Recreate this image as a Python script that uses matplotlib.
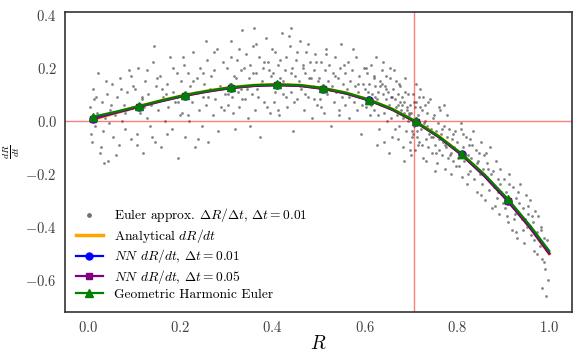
"""Euler estimates of dR/dt versus R, with the analytical and learned right-hand sides."""
import numpy as np
import matplotlib
matplotlib.use("Agg")
import matplotlib.pyplot as plt

plt.rcParams["font.family"] = ["cmr10", "DejaVu Serif"]
plt.rcParams["mathtext.fontset"] = "cm"
plt.rcParams["axes.formatter.use_mathtext"] = True

# Scattered Euler estimates (R, dR/dt) in R bands.
R_A = [0.004, 0.008, 0.011, 0.015, 0.019, 0.022, 0.026, 0.03, 0.033, 0.037, 0.041, 0.044, 0.048, 0.052, 0.055,
       0.059, 0.063, 0.066, 0.07, 0.074, 0.077, 0.081, 0.085, 0.088, 0.092, 0.095, 0.098, 0.013, 0.046, 0.079]
Y_A = [0.05, -0.08, 0.12, -0.02, 0.03, 0.18, -0.12, 0.07, -0.04, 0.01, 0.1, -0.15, 0.04, 0.14, -0.06,
       0.02, 0.09, -0.09, 0.16, 0.0, 0.06, -0.03, 0.11, 0.19, -0.07, 0.05, 0.13, 0.08, -0.01, 0.03]
R_B = [0.102, 0.105, 0.109, 0.112, 0.116, 0.119, 0.123, 0.127, 0.13, 0.134, 0.137, 0.141, 0.145, 0.148, 0.152,
       0.156, 0.159, 0.163, 0.166, 0.17, 0.174, 0.177, 0.181, 0.185, 0.188, 0.192, 0.195, 0.199, 0.121, 0.168]
Y_B = [0.12, -0.05, 0.2, 0.03, 0.08, -0.12, 0.15, 0.01, 0.1, -0.02, 0.06, 0.22, -0.08, 0.13, 0.04,
       0.17, -0.1, 0.09, 0.0, 0.14, 0.05, 0.24, -0.03, 0.11, 0.07, 0.18, -0.14, 0.02, 0.05, 0.1]
R_C = [0.201, 0.204, 0.207, 0.21, 0.213, 0.216, 0.219, 0.222, 0.225, 0.228, 0.231, 0.234, 0.237, 0.24, 0.243, 0.246,
       0.249, 0.252, 0.255, 0.258, 0.261, 0.264, 0.267, 0.27, 0.273, 0.276, 0.279, 0.282, 0.285, 0.288, 0.292, 0.297]
Y_C = [0.15, 0.03, 0.21, -0.06, 0.1, 0.18, 0.0, 0.13, 0.07, 0.26, -0.1, 0.11, 0.16, 0.04, 0.2, -0.02,
       0.09, 0.14, 0.06, 0.23, -0.08, 0.12, 0.17, 0.02, 0.19, 0.08, 0.27, -0.04, 0.13, 0.05, 0.22, 0.1]
R_D = [0.301, 0.304, 0.307, 0.31, 0.313, 0.316, 0.319, 0.322, 0.325, 0.328, 0.331, 0.334, 0.337, 0.34, 0.343, 0.346, 0.349,
       0.352, 0.355, 0.358, 0.361, 0.364, 0.367, 0.37, 0.373, 0.376, 0.379, 0.382, 0.385, 0.388, 0.391, 0.394, 0.397, 0.332]
Y_D = [0.2, 0.06, 0.14, 0.3, 0.09, 0.17, -0.03, 0.23, 0.11, 0.05, 0.19, 0.34, 0.13, 0.08, 0.25, 0.01, 0.16,
       0.21, 0.1, 0.28, 0.04, 0.18, 0.12, 0.24, -0.06, 0.15, 0.2, 0.07, 0.31, 0.14, 0.22, 0.03, 0.17, 0.12]
R_E = [0.401, 0.404, 0.406, 0.409, 0.412, 0.415, 0.417, 0.42, 0.423, 0.426, 0.429, 0.431, 0.434, 0.437, 0.44, 0.443, 0.445, 0.448,
       0.451, 0.454, 0.457, 0.459, 0.462, 0.465, 0.468, 0.471, 0.473, 0.476, 0.479, 0.482, 0.485, 0.487, 0.49, 0.493, 0.496, 0.499]
Y_E = [0.18, 0.07, 0.26, 0.13, 0.21, 0.02, 0.16, 0.33, 0.1, 0.19, 0.24, 0.05, 0.14, 0.28, 0.11, 0.2, -0.04, 0.17,
       0.23, 0.08, 0.15, 0.3, 0.12, 0.21, 0.04, 0.18, 0.26, 0.09, 0.16, 0.22, 0.01, 0.13, 0.19, 0.25, 0.06, 0.15]
R_F = [0.501, 0.503, 0.506, 0.508, 0.511, 0.513, 0.516, 0.518, 0.521, 0.523, 0.526, 0.528, 0.531, 0.533, 0.536, 0.538, 0.541, 0.543, 0.546, 0.548,
       0.551, 0.553, 0.556, 0.558, 0.561, 0.563, 0.566, 0.568, 0.571, 0.573, 0.576, 0.578, 0.581, 0.583, 0.586, 0.588, 0.591, 0.593, 0.596, 0.598]
Y_F = [0.16, 0.08, 0.22, 0.12, 0.03, 0.19, 0.27, 0.1, 0.15, 0.21, -0.02, 0.13, 0.18, 0.07, 0.24, 0.11, 0.16, 0.04, 0.2, 0.29,
       0.09, 0.14, 0.18, 0.06, 0.12, 0.22, 0.01, 0.15, 0.1, 0.19, 0.07, 0.13, 0.24, 0.04, 0.11, 0.17, -0.05, 0.09, 0.14, 0.2]
R_G = [0.601, 0.603, 0.605, 0.607, 0.609, 0.611, 0.613, 0.615, 0.617, 0.619, 0.621, 0.623, 0.625, 0.627, 0.629,
       0.631, 0.633, 0.635, 0.637, 0.639, 0.641, 0.643, 0.645, 0.647, 0.649, 0.651, 0.653, 0.655, 0.657, 0.659,
       0.661, 0.663, 0.665, 0.667, 0.669, 0.671, 0.673, 0.675, 0.677, 0.679, 0.681, 0.683, 0.685, 0.687, 0.689,
       0.691, 0.693, 0.695, 0.697, 0.699, 0.622, 0.646, 0.668, 0.684, 0.694, 0.612, 0.638, 0.656, 0.676, 0.692,
       0.626, 0.652, 0.672, 0.686, 0.698]
Y_G = [0.12, 0.05, 0.18, 0.09, 0.14, 0.02, 0.21, 0.1, 0.07, 0.16, 0.04, 0.13, 0.24, 0.08, 0.11,
       -0.03, 0.15, 0.06, 0.19, 0.1, 0.03, 0.13, 0.08, 0.17, 0.0, 0.11, 0.06, 0.2, 0.09, -0.06,
       0.12, 0.04, 0.08, 0.15, 0.02, 0.1, 0.06, -0.02, 0.13, 0.04, 0.09, 0.01, 0.07, 0.16, -0.04,
       0.05, 0.1, 0.02, -0.08, 0.06, 0.09, 0.12, 0.05, 0.03, 0.0, 0.08, 0.14, 0.01, 0.07, 0.04,
       -0.09, -0.12, -0.07, -0.15, -0.11]
R_H = [0.701, 0.703, 0.705, 0.706, 0.708, 0.709, 0.711, 0.712, 0.714, 0.716, 0.718, 0.72, 0.722, 0.724, 0.726, 0.728, 0.73, 0.732, 0.734,
       0.736, 0.738, 0.74, 0.742, 0.744, 0.746, 0.748, 0.75, 0.752, 0.754, 0.756, 0.758, 0.76, 0.762, 0.764, 0.766, 0.768, 0.77, 0.772,
       0.774, 0.776, 0.778, 0.78, 0.782, 0.784, 0.786, 0.788, 0.79, 0.792, 0.794, 0.796, 0.798, 0.704, 0.71, 0.715, 0.727]
Y_H = [0.03, -0.06, 0.1, -0.02, 0.05, -0.11, 0.01, 0.07, -0.04, 0.02, -0.08, 0.12, -0.03, 0.04, -0.14, -0.01, 0.06, -0.07, -0.02,
       0.03, -0.1, -0.05, 0.08, -0.03, -0.12, -0.06, 0.02, -0.09, -0.04, -0.16, -0.01, -0.07, -0.11, 0.04, -0.05, -0.13, -0.08, -0.02,
       -0.18, -0.1, -0.06, -0.14, -0.03, -0.09, -0.2, -0.12, -0.07, -0.15, -0.1, -0.04, -0.17, -0.05, 0.14, -0.09, 0.09]
R_I = [0.801, 0.804, 0.806, 0.809, 0.811, 0.814, 0.816, 0.819, 0.821, 0.824, 0.826, 0.829, 0.831, 0.834, 0.836, 0.839, 0.841, 0.844, 0.846, 0.849,
       0.851, 0.854, 0.856, 0.859, 0.861, 0.864, 0.866, 0.869, 0.871, 0.874, 0.876, 0.879, 0.881, 0.884, 0.886, 0.889, 0.891, 0.894, 0.896, 0.899]
Y_I = [-0.08, -0.17, -0.12, -0.03, -0.21, -0.1, -0.15, -0.06, -0.24, -0.13, -0.09, -0.19, -0.14, -0.04, -0.22, -0.17, -0.11, -0.27, -0.15, -0.2,
       -0.08, -0.24, -0.18, -0.13, -0.3, -0.21, -0.16, -0.26, -0.1, -0.23, -0.33, -0.19, -0.25, -0.15, -0.29, -0.22, -0.35, -0.18, -0.27, -0.31]
R_J = [0.901, 0.904, 0.907, 0.91, 0.913, 0.916, 0.919, 0.922, 0.925, 0.928, 0.931, 0.934, 0.937, 0.94, 0.943, 0.946, 0.949, 0.952,
       0.955, 0.958, 0.961, 0.964, 0.967, 0.97, 0.973, 0.976, 0.979, 0.982, 0.985, 0.988, 0.991, 0.994, 0.997, 0.993, 0.985]
Y_J = [-0.22, -0.33, -0.27, -0.38, -0.2, -0.3, -0.41, -0.25, -0.35, -0.29, -0.44, -0.31, -0.24, -0.37, -0.33, -0.46, -0.28, -0.4,
       -0.35, -0.3, -0.43, -0.38, -0.49, -0.34, -0.42, -0.36, -0.47, -0.4, -0.52, -0.44, -0.56, -0.48, -0.6, -0.66, -0.63]
# second pass over the cloud
R_K = [0.006, 0.017, 0.028, 0.039, 0.05, 0.061, 0.072, 0.083, 0.094, 0.106, 0.117, 0.128, 0.139, 0.15, 0.161,
       0.172, 0.183, 0.194, 0.206, 0.217, 0.228, 0.239, 0.25, 0.261, 0.272, 0.283, 0.294, 0.035, 0.142, 0.256]
Y_K = [-0.05, 0.09, -0.1, 0.15, 0.06, -0.13, 0.12, 0.04, 0.17, -0.09, 0.09, 0.19, -0.06, 0.16, 0.12,
       -0.05, 0.2, 0.07, 0.24, 0.02, 0.15, -0.07, 0.18, 0.09, 0.26, 0.12, 0.04, -0.16, 0.28, 0.3]
R_L = [0.303, 0.309, 0.315, 0.321, 0.327, 0.333, 0.339, 0.345, 0.351, 0.357, 0.363, 0.369, 0.375, 0.381, 0.387,
       0.393, 0.399, 0.405, 0.411, 0.417, 0.423, 0.429, 0.435, 0.441, 0.447, 0.453, 0.459, 0.465, 0.471, 0.477,
       0.483, 0.489, 0.495, 0.505, 0.515, 0.525, 0.535, 0.545, 0.555, 0.565, 0.575, 0.585, 0.595, 0.36, 0.44]
Y_L = [0.1, 0.24, 0.03, 0.16, 0.27, 0.08, 0.2, 0.12, -0.02, 0.18, 0.29, 0.09, 0.14, 0.22, 0.05,
       0.19, 0.27, 0.11, 0.04, 0.23, 0.15, 0.09, 0.32, 0.18, 0.07, 0.26, 0.13, 0.2, 0.1, 0.29,
       0.16, 0.08, 0.22, 0.05, 0.25, 0.12, 0.17, 0.02, 0.21, 0.09, 0.27, 0.14, 0.06, 0.35, 0.35]
R_M = [0.602, 0.608, 0.614, 0.62, 0.628, 0.634, 0.64, 0.648, 0.654, 0.66, 0.666, 0.674, 0.68, 0.688, 0.696, 0.702,
       0.707, 0.713, 0.719, 0.725, 0.731, 0.737, 0.743, 0.749, 0.755, 0.761, 0.767, 0.773, 0.779, 0.785, 0.791, 0.797,
       0.642, 0.664, 0.682, 0.7, 0.718, 0.733, 0.753, 0.771]
Y_M = [0.2, 0.11, 0.06, 0.17, 0.02, 0.13, 0.22, 0.05, 0.16, 0.09, -0.03, 0.14, 0.06, 0.11, 0.03, -0.04,
       0.07, -0.06, 0.05, -0.09, 0.0, 0.07, -0.06, 0.01, -0.12, 0.05, -0.03, -0.09, 0.02, -0.13, -0.05, -0.11,
       -0.08, 0.19, -0.1, -0.13, 0.09, -0.15, -0.19, 0.06]
R_N = [0.803, 0.813, 0.823, 0.833, 0.843, 0.853, 0.863, 0.873, 0.883, 0.893, 0.903, 0.913, 0.923, 0.933, 0.943,
       0.953, 0.963, 0.973, 0.983, 0.995, 0.808, 0.828, 0.848, 0.868, 0.888, 0.908, 0.928, 0.948, 0.968, 0.988]
Y_N = [-0.14, -0.05, -0.2, -0.09, -0.16, -0.28, -0.12, -0.2, -0.32, -0.24, -0.3, -0.24, -0.37, -0.27, -0.41,
       -0.32, -0.36, -0.5, -0.41, -0.45, -0.01, -0.07, -0.12, -0.18, -0.27, -0.36, -0.42, -0.37, -0.45, -0.53]

# Curves, read at R = 0.01, 0.06, ..., 0.96 and 1.0 (markers every 0.1 from 0.01).
R_CURVE = [0.01, 0.06, 0.11, 0.16, 0.21, 0.26, 0.31, 0.36, 0.41, 0.46, 0.51,
           0.56, 0.61, 0.66, 0.71, 0.76, 0.81, 0.86, 0.91, 0.96, 1.0]
ANALYTICAL = [0.005, 0.030, 0.054, 0.076, 0.096, 0.112, 0.125, 0.133, 0.136, 0.133, 0.122,
              0.104, 0.078, 0.043, -0.003, -0.059, -0.126, -0.206, -0.299, -0.405, -0.500]
NN_001 = [0.008, 0.031, 0.053, 0.075, 0.095, 0.111, 0.124, 0.132, 0.135, 0.132, 0.121,
          0.103, 0.077, 0.042, -0.004, -0.060, -0.127, -0.208, -0.301, -0.406, -0.500]
NN_005 = [0.006, 0.030, 0.052, 0.074, 0.094, 0.110, 0.123, 0.131, 0.134, 0.131, 0.120,
          0.102, 0.076, 0.041, -0.005, -0.061, -0.129, -0.210, -0.303, -0.406, -0.500]
GH_EULER = [0.015, 0.034, 0.055, 0.077, 0.097, 0.113, 0.126, 0.134, 0.137, 0.134, 0.123,
            0.105, 0.079, 0.044, -0.002, -0.058, -0.124, -0.203, -0.294, -0.398, -0.490]

R_STAR = 0.707  # non-trivial equilibrium


def main():
    r_pts = np.concatenate([R_A, R_B, R_C, R_D, R_E, R_F, R_G, R_H, R_I, R_J, R_K, R_L, R_M, R_N])
    y_pts = np.concatenate([Y_A, Y_B, Y_C, Y_D, Y_E, Y_F, Y_G, Y_H, Y_I, Y_J, Y_K, Y_L, Y_M, Y_N])

    fig = plt.figure(figsize=(5.81, 3.59), dpi=100)
    ax = fig.add_axes([0.112, 0.131, 0.873, 0.836])

    ax.scatter(r_pts, y_pts, s=4, color="0.2", alpha=0.6, lw=0,
               label=r"Euler approx. $\Delta R/\Delta t$, $\Delta t=0.01$")
    ax.axhline(0, color="red", alpha=0.5, lw=1)
    ax.axvline(R_STAR, color="red", alpha=0.5, lw=1)

    marks = slice(0, 20, 2)
    ax.plot(R_CURVE, ANALYTICAL, color="orange", lw=2.5, label=r"Analytical $dR/dt$")
    ax.plot(R_CURVE, NN_001, color="blue", lw=1.6, marker="o", ms=5, markevery=marks,
            label=r"$NN$ $dR/dt$, $\Delta t=0.01$")
    ax.plot(R_CURVE, NN_005, color="purple", lw=1.6, marker="s", ms=5, markevery=marks,
            label=r"$NN$ $dR/dt$, $\Delta t=0.05$")
    ax.plot(R_CURVE, GH_EULER, color="green", lw=1.6, marker="^", ms=6, markevery=marks,
            label="Geometric Harmonic Euler")

    ax.set_xlim(-0.05, 1.05)
    ax.set_ylim(-0.72, 0.41)
    ax.set_xticks([0.0, 0.2, 0.4, 0.6, 0.8, 1.0])
    ax.set_yticks([-0.6, -0.4, -0.2, 0.0, 0.2, 0.4])
    ax.xaxis.set_major_formatter(matplotlib.ticker.FuncFormatter(lambda v, _: f"${v:.1f}$"))
    ax.yaxis.set_major_formatter(matplotlib.ticker.FuncFormatter(lambda v, _: f"${v:.1f}$"))
    ax.tick_params(length=0, labelsize=10.5, pad=6, colors="0.25")
    for sp in ax.spines.values():
        sp.set_color("0.2")
        sp.set_linewidth(1.2)

    ax.set_xlabel(r"$R$", fontsize=14, labelpad=0)
    ax.set_ylabel(r"$\frac{dR}{dt}$", fontsize=10)
    ax.yaxis.set_label_coords(-0.085, 0.535)

    leg = ax.legend(loc="lower left", frameon=False, fontsize=9.7,
                    handlelength=2.0, labelspacing=0.2, borderaxespad=0.4)
    leg.legend_handles[0].set_sizes([12])
    leg.legend_handles[0].set_alpha(0.7)

    out = "out.png"
    fig.savefig(out, dpi=100)
    print(f"saved {out}")


if __name__ == "__main__":
    main()
